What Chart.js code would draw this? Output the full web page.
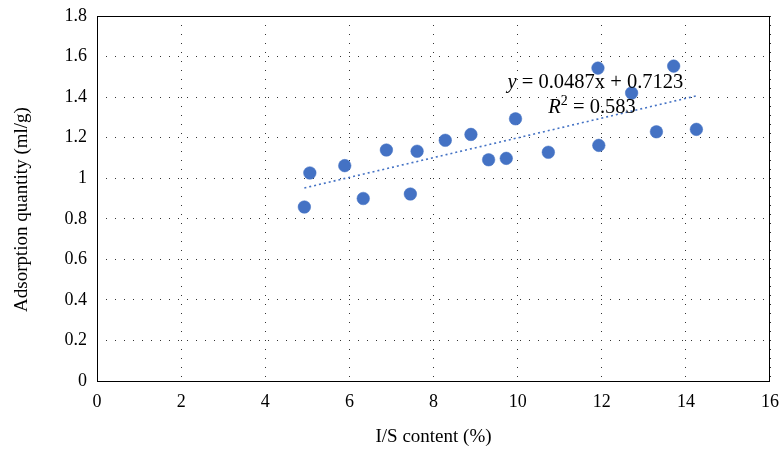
<!DOCTYPE html>
<html>
<head>
<meta charset="utf-8">
<script src="https://cdn.jsdelivr.net/npm/chart.js@4"></script>
<style>
html,body{margin:0;padding:0;background:#fff;}
#wrap{width:779px;height:456px;}
</style>
</head>
<body>
<div id="wrap"><canvas id="c" width="779" height="456"></canvas></div>
<script>
// ---- data ----
const xValues = [4.93, 5.06, 5.89, 6.33, 6.88, 7.45, 7.61, 8.28, 8.89, 9.31, 9.73, 9.95, 10.73, 11.93, 11.91, 12.71, 13.30, 13.71, 14.25];
const yValues = [0.858, 1.026, 1.062, 0.900, 1.139, 0.922, 1.133, 1.187, 1.216, 1.091, 1.098, 1.293, 1.128, 1.162, 1.543, 1.420, 1.229, 1.553, 1.241];
const trendX = [4.93, 14.25];
const trendY = [0.952, 1.406];
const xTicks = [0, 2, 4, 6, 8, 10, 12, 14, 16];
const yTicks = [0, 0.2, 0.4, 0.6, 0.8, 1, 1.2, 1.4, 1.6, 1.8];
const xTitle = 'I/S content (%)';
const yTitle = 'Adsorption quantity (ml/g)';
const eqLine1 = [['y', true], [' = 0.0487x + 0.7123', false]];
const eqLine2 = [['R', true], ['2', false, 'sup'], [' = 0.583', false]];

const SERIF = '"Liberation Serif", "Times New Roman", serif';
const BLUE = '#4472C4';

const scatterPts = xValues.map((x, i) => ({x: x, y: yValues[i]}));
const trendPts = trendX.map((x, i) => ({x: x, y: trendY[i]}));

const overlay = {
  id: 'overlay',
  afterDraw(chart) {
    const ctx = chart.ctx;
    const a = chart.chartArea;
    const xs = chart.scales.x, ys = chart.scales.y;
    ctx.save();
    // plot frame
    ctx.strokeStyle = '#000';
    ctx.lineWidth = 1;
    ctx.strokeRect(Math.round(a.left) + 0.5, Math.round(a.top) + 0.5,
                   Math.round(a.right - a.left) - 1, Math.round(a.bottom - a.top));
    // axis titles
    ctx.fillStyle = '#000';
    ctx.font = '19px ' + SERIF;
    ctx.textAlign = 'center';
    ctx.textBaseline = 'middle';
    ctx.fillText(xTitle, (a.left + a.right) / 2, 437);
    ctx.save();
    ctx.translate(22, (a.top + a.bottom) / 2 + 11);
    ctx.rotate(-Math.PI / 2);
    ctx.fillText(yTitle, 0, 0);
    ctx.restore();
    // trend equation
    const drawRich = (parts, cx, baseY, size) => {
      ctx.textAlign = 'left';
      ctx.textBaseline = 'alphabetic';
      const fontFor = p => (p[1] ? 'italic ' : '') + (p[2] === 'sup' ? Math.round(size * 0.7) : size) + 'px ' + SERIF;
      let w = 0;
      parts.forEach(p => { ctx.font = fontFor(p); w += ctx.measureText(p[0]).width; });
      let x = cx - w / 2;
      parts.forEach(p => {
        ctx.font = fontFor(p);
        ctx.fillText(p[0], x, p[2] === 'sup' ? baseY - size * 0.36 : baseY);
        x += ctx.measureText(p[0]).width;
      });
    };
    drawRich(eqLine1, xs.getPixelForValue(11.85), ys.getPixelForValue(1.443), 20.5);
    drawRich(eqLine2, xs.getPixelForValue(11.77), ys.getPixelForValue(1.323), 20.5);
    ctx.restore();
  }
};

new Chart(document.getElementById('c'), {
  type: 'scatter',
  data: {
    datasets: [
      {
        type: 'line',
        data: trendPts,
        borderColor: BLUE,
        borderWidth: 1.6,
        borderDash: [2, 3],
        pointRadius: 0,
        fill: false,
        order: 2
      },
      {
        type: 'scatter',
        data: scatterPts,
        backgroundColor: BLUE,
        borderColor: BLUE,
        borderWidth: 0.5,
        pointRadius: 6.3,
        order: 1
      }
    ]
  },
  options: {
    responsive: false,
    animation: false,
    devicePixelRatio: 1,
    layout: { padding: { top: 16, right: 9, left: 0, bottom: 0 } },
    plugins: { legend: { display: false }, tooltip: { enabled: false } },
    scales: {
      x: {
        type: 'linear',
        min: 0, max: 16,
        afterBuildTicks: s => { s.ticks = xTicks.map(v => ({value: v})); },
        afterFit: s => { s.height = 75; s.paddingLeft = 0; s.paddingRight = 0; },
        ticks: { color: '#000', font: { family: SERIF, size: 18 }, padding: 10, maxRotation: 0 },
        grid: { color: '#333', lineWidth: 1, drawTicks: false },
        border: { display: false, dash: [1, 8] }
      },
      y: {
        type: 'linear',
        min: 0, max: 1.8,
        afterBuildTicks: s => { s.ticks = yTicks.map(v => ({value: v})); },
        afterFit: s => { s.width = 97; s.paddingTop = 0; s.paddingBottom = 0; },
        ticks: { color: '#000', font: { family: SERIF, size: 18 }, padding: 10,
                 callback: v => String(Math.round(v * 10) / 10) },
        grid: { color: '#333', lineWidth: 1, drawTicks: false },
        border: { display: false, dash: [1, 8] }
      }
    }
  },
  plugins: [overlay]
});
</script>
</body>
</html>
